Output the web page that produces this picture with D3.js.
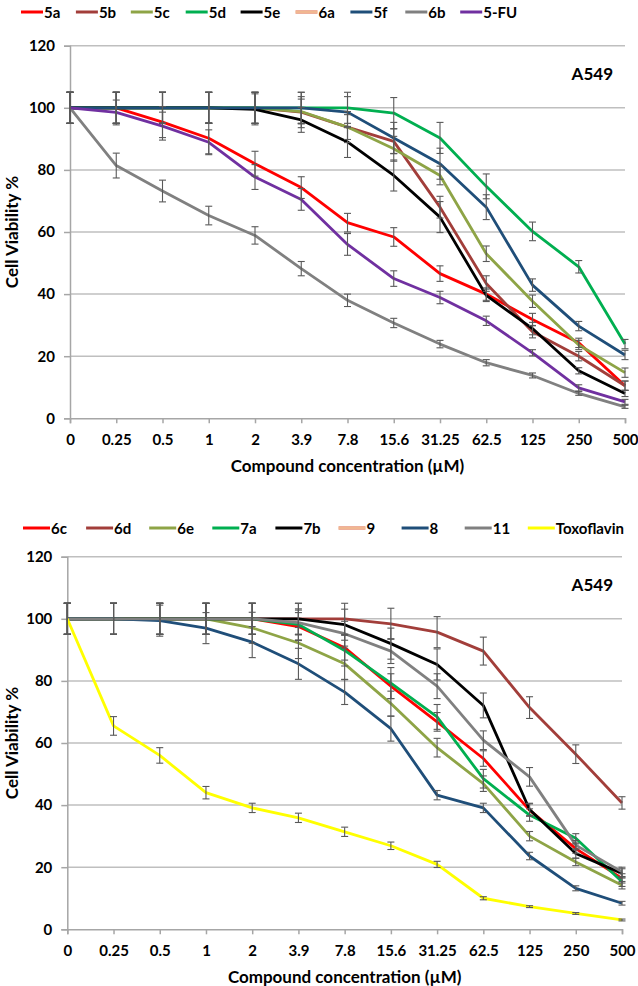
<!DOCTYPE html>
<html><head><meta charset="utf-8">
<script src="https://cdn.jsdelivr.net/npm/d3@7"></script>
<style>body{margin:0;background:#fff}svg{display:block}text{font-family:Lato,"Open Sans",sans-serif;font-weight:bold;fill:#000}</style>
</head><body>
<script>
const concentrations = ["0","0.25","0.5","1","2","3.9","7.8","15.6","31.25","62.5","125","250","500"];
const yTicks = [0,20,40,60,80,100,120];

// Top panel
const topNames = ["5a","5b","5c","5d","5e","6a","5f","6b","5-FU"];
const topColors = ["#FF0000","#A23E3A","#8EA446","#00AF50","#000000","#E8967A","#1F4E79","#808080","#7030A0"];
const v5a  = [100,100,95.4,90.2,82,74.3,63,58.4,46.6,40,31.8,24.3,10.5];
const v5b  = [100,100,100,100,100,98.6,93.8,89.2,68,43.4,27.9,20,10.5];
const v5c  = [100,100,100,100,100,98.8,93.8,86.8,78.2,53,37.7,23.6,14.7];
const v5d  = [100,100,100,100,100,100,100,98.3,90.3,74.7,60.2,48.8,23.9];
const v5e  = [100,100,100,100,99.5,96.1,89,78.2,64.8,39.6,28.9,15.3,8];
const v6a  = null;
const v5f  = [100,100,100,100,100,100,98.6,90.3,82,68,42.9,29.7,20.4];
const v6b  = [100,81.4,73.2,65.3,58.9,48.2,38,30.7,23.9,17.9,13.8,8,3.7];
const v5FU = [100,98.5,94.1,88.9,77.7,70.5,56,45,38.9,31.4,21.1,9.8,5.3];
const e5a  = [5,5,5,5,4,3.5,3,3,2.5,2,2,1.5,1.5];
const e5b  = [5,5,5,5,5,5,5,4,3.5,2.5,2,1.5,1.5];
const e5c  = [5,5,5,5,5,4,4,4,3,2.5,2,1.5,1.5];
const e5d  = [5,5,5,5,5,5,5,5,5,4,3,2,1.5];
const e5e  = [5,5,5,5,5,4,5,5,5,2,2,1,1];
const e5f  = [5,5,5,5,5,5,5,5,5,4,2,1.5,1.5];
const e6b  = [5,4,3.5,3,2.8,2.3,2,1.5,1.2,1,0.8,0.6,0.5];
const e5FU = [5,4,4.5,4,4,3.5,3.5,2.5,2,1.5,1,1,0.8];

// Bottom panel
const botNames = ["6c","6d","6e","7a","7b","9","8","11","Toxoflavin"];
const botColors = ["#FF0000","#A23E3A","#8EA446","#00AF50","#000000","#E8967A","#1F4E79","#808080","#FFFF00"];
const v6c  = [100,100,100,100,100,97.5,90.7,78.3,66.8,55,38.4,26,16.4];
const v6d  = [100,100,100,100,100,100,100,98.4,95.7,89.6,71.4,56.4,40.7];
const v6e  = [100,100,100,100,97.1,92.2,85.5,72.7,58.5,46.9,30,21.7,14.2];
const v7a  = [100,100,100,100,100,98.2,89.8,79.3,68.4,48.5,36.8,29.3,15.3];
const v7b  = [100,100,100,100,100,100,98.1,92,85.3,72.1,38.6,24.4,18];
const v9   = null;
const v8   = [100,100,99.4,97,92.5,85.5,76.4,64.6,43.2,39.1,23.6,13.2,8.4];
const v11  = [100,100,100,100,100,98.8,95.2,89.6,78.3,60.9,49.1,27.1,18.5];
const vTox = [100,65.5,56,44,39.1,35.9,31.4,26.9,20.9,10,7.3,5.1,3];
const e6c  = [5,5,5,5,5,4.5,4,4,3,2.5,2,1.5,1.5];
const e6d  = [5,5,5,5,5,5,5,5,5,4.5,3.5,3,2];
const e6e  = [5,5,5,5,5,5,5,4,3,2.5,1.5,1.2,1.2];
const e7a  = [5,5,5,5,5,5,5,5,4,3,2,1.5,1.5];
const e7b  = [5,5,5,5,5,5,5,5,5,4,2,1.5,1.5];
const e8   = [5,5,5,5,5,5,4,4,1.5,1.5,1.2,0.8,0.6];
const e11  = [5,5,5,5,5,4,4,4,4,3,3,1.5,1.5];
const eTox = [5,3,2.5,2,1.5,1.5,1.5,1.2,1,0.5,0.3,0.3,0.3];

const topVals = [v5a,v5b,v5c,v5d,v5e,v6a,v5f,v6b,v5FU];
const topErrs = [e5a,e5b,e5c,e5d,e5e,null,e5f,e6b,e5FU];
const botVals = [v6c,v6d,v6e,v7a,v7b,v9,v8,v11,vTox];
const botErrs = [e6c,e6d,e6e,e7a,e7b,null,e8,e11,eTox];

const W = 638, H = 986;
const svg = d3.select("body").append("svg").attr("width",W).attr("height",H);

function panel(cfg){
  const g = svg.append("g");
  const x = d3.scalePoint().domain(concentrations).range([cfg.x0,cfg.x1]);
  const y = d3.scaleLinear().domain([0,120]).range([cfg.yb,cfg.yt]);
  // grid
  g.selectAll(".grid").data(yTicks.filter(d=>d>0)).join("line")
    .attr("x1",cfg.x0).attr("x2",cfg.x1).attr("y1",d=>y(d)).attr("y2",d=>y(d))
    .attr("stroke","#BFBFBF").attr("stroke-width",1.5);
  // y axis
  const ya = g.append("g").attr("transform",`translate(${cfg.x0},0)`)
    .call(d3.axisLeft(y).tickValues(yTicks).tickSize(6).tickPadding(9));
  ya.select(".domain").attr("stroke","#A6A6A6").attr("stroke-width",1.5);
  ya.selectAll(".tick line").attr("stroke","#A6A6A6").attr("stroke-width",1.5);
  ya.selectAll("text").style("font-size","15px").attr("fill","#000");
  // x axis
  const xa = g.append("g").attr("transform",`translate(0,${cfg.yb})`)
    .call(d3.axisBottom(x).tickSize(5).tickPadding(11));
  xa.select(".domain").attr("stroke","#A6A6A6").attr("stroke-width",1.5);
  xa.selectAll(".tick line").attr("stroke","#A6A6A6").attr("stroke-width",1.5);
  xa.selectAll("text").style("font-size","15px").attr("fill","#000");
  // titles
  g.append("text").attr("x",(cfg.x0+cfg.x1)/2).attr("y",cfg.yb+54).attr("text-anchor","middle")
    .style("font-size","17px").text("Compound concentration (µM)");
  g.append("text").attr("transform",`translate(18,${(cfg.yt+cfg.yb)/2}) rotate(-90)`).attr("text-anchor","middle")
    .style("font-size","17px").text("Cell Viability %");
  g.append("text").attr("x",613).attr("y",cfg.yt+34).attr("text-anchor","end")
    .style("font-size","17px").text("A549");
  // lines
  const line = d3.line().x((d,i)=>x(concentrations[i])).y(d=>y(d));
  cfg.vals.forEach((vals,k)=>{
    if(!vals) return;
    g.append("path").datum(vals).attr("d",line).attr("fill","none")
      .attr("stroke",cfg.colors[k]).attr("stroke-width",2.8).attr("stroke-linejoin","round");
  });
  // error bars
  cfg.vals.forEach((vals,k)=>{
    if(!vals) return;
    const errs = cfg.errs[k];
    const eb = g.append("g").attr("stroke","#595959").attr("stroke-width",1.1);
    vals.forEach((v,i)=>{
      const cx = x(concentrations[i]);
      const yh = y(v+errs[i]), yl = y(v-errs[i]);
      eb.append("line").attr("x1",cx).attr("x2",cx).attr("y1",yh).attr("y2",yl);
      eb.append("line").attr("x1",cx-3.5).attr("x2",cx+3.5).attr("y1",yh).attr("y2",yh);
      eb.append("line").attr("x1",cx-3.5).attr("x2",cx+3.5).attr("y1",yl).attr("y2",yl);
    });
  });
  // legend
  const lg = g.append("g");
  cfg.names.forEach((n,k)=>{
    const lx = cfg.legX0 + k*cfg.legStep;
    if(cfg.colors[k]==="#E8967A"){
      lg.append("line").attr("x1",lx).attr("x2",lx+cfg.legLen).attr("y1",cfg.legY).attr("y2",cfg.legY)
        .attr("stroke","#E8967A").attr("stroke-width",3.5);
      lg.append("line").attr("x1",lx).attr("x2",lx+cfg.legLen).attr("y1",cfg.legY).attr("y2",cfg.legY)
        .attr("stroke","#F9D8A8").attr("stroke-width",1);
    } else {
      lg.append("line").attr("x1",lx).attr("x2",lx+cfg.legLen).attr("y1",cfg.legY).attr("y2",cfg.legY)
        .attr("stroke",cfg.colors[k]).attr("stroke-width",3);
    }
    lg.append("text").attr("x",lx+cfg.legLen+1).attr("y",cfg.legY+5.5).style("font-size","15px").text(n);
  });
}

panel({x0:70,x1:625,yt:45.7,yb:418.3,vals:topVals,errs:topErrs,colors:topColors,names:topNames,
  legX0:21,legStep:54.9,legLen:22,legY:12});
panel({x0:67.3,x1:622,yt:556.7,yb:929.3,vals:botVals,errs:botErrs,colors:botColors,names:botNames,
  legX0:23,legStep:63.1,legLen:27,legY:528});
</script>
</body></html>
